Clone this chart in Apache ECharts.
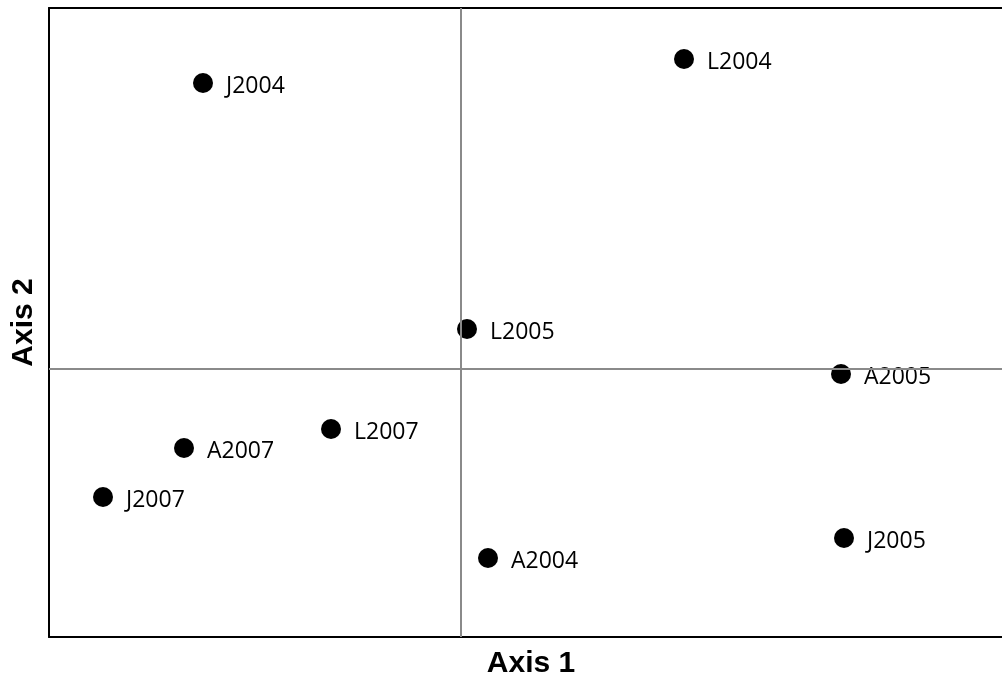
<!DOCTYPE html>
<html>
<head>
<meta charset="utf-8">
<script src="https://cdn.jsdelivr.net/npm/echarts@6/dist/echarts.min.js"></script>
<style>
html,body{margin:0;padding:0;background:#fff;}
#chart{width:1002px;height:681px;}
</style>
</head>
<body>
<div id="chart"></div>
<script>
// Data (arbitrary ordination units)
const names = ['J2004', 'L2004', 'L2005', 'A2005', 'L2007', 'A2007', 'J2007', 'A2004', 'J2005'];
const axis1 = [-2.58, 2.23, 0.06, 3.80, -1.30, -2.77, -3.58, 0.27, 3.83];
const axis2 = [2.86, 3.10, 0.40, -0.05, -0.60, -0.79, -1.28, -1.89, -1.69];
const xLabel = 'Axis 1';
const yLabel = 'Axis 2';

const points = names.map((n, i) => ({ name: n, value: [axis1[i], axis2[i]] }));

const nameStyle = { fontFamily: 'Liberation Sans, Arial', fontWeight: 'bold', fontSize: 30, color: '#000' };
const hiddenAxis = { axisTick: { show: false }, axisLabel: { show: false }, splitLine: { show: false } };
const frameLine = { show: true, onZero: false, lineStyle: { color: '#000', width: 2 } };

const chart = echarts.init(document.getElementById('chart'), null, { renderer: 'canvas' });
chart.setOption({
  animation: false,
  backgroundColor: '#fff',
  grid: { left: 49, top: 8, right: 0, bottom: 44, containLabel: false, outerBoundsMode: 'none' },
  xAxis: [{
    type: 'value', min: -4.12, max: 5.41, position: 'bottom',
    name: xLabel, nameLocation: 'middle', nameGap: 12,
    nameTextStyle: Object.assign({ padding: [0, 0, 0, 11] }, nameStyle),
    axisLine: frameLine, ...hiddenAxis
  }, {
    type: 'value', min: -4.12, max: 5.41, position: 'top',
    axisLine: frameLine, ...hiddenAxis
  }],
  yAxis: {
    type: 'value', min: -2.68, max: 3.61,
    name: yLabel, nameLocation: 'middle', nameGap: 10, nameRotate: 90,
    nameTextStyle: nameStyle,
    axisLine: frameLine, ...hiddenAxis
  },
  series: [{
    type: 'scatter',
    data: points,
    symbol: 'circle',
    symbolSize: 20,
    itemStyle: { color: '#000', opacity: 1 },
    label: {
      show: true, position: 'right', distance: 13,
      formatter: p => p.name,
      fontFamily: 'Open Sans, Noto Sans', fontSize: 23, color: '#000', opacity: 1,
      offset: [0, 3]
    },
    emphasis: { disabled: true },
    markLine: {
      silent: true, symbol: 'none',
      label: { show: false },
      lineStyle: { color: '#8a8a8a', width: 2, type: 'solid', opacity: 1 },
      data: [{ xAxis: 0 }, { yAxis: 0 }]
    },
    z: 3
  }]
});
</script>
</body>
</html>
